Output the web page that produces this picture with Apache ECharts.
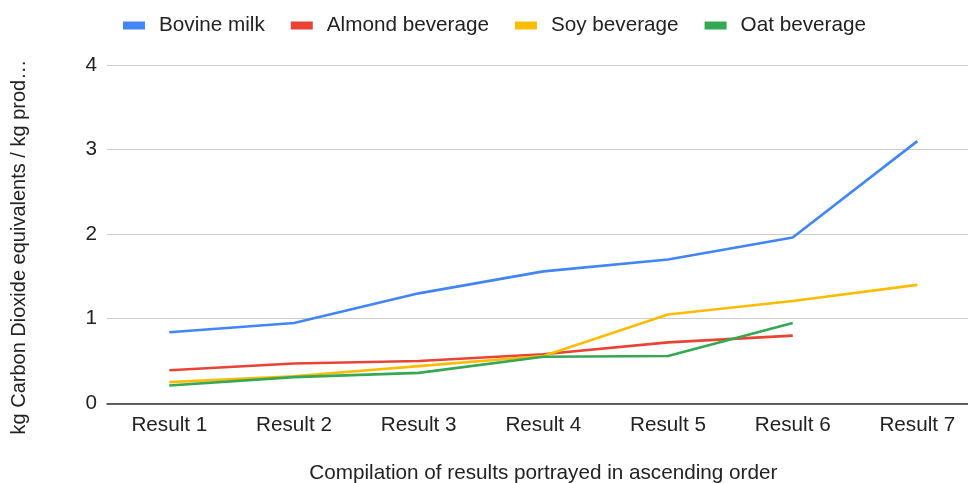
<!DOCTYPE html>
<html>
<head>
<meta charset="utf-8">
<script src="https://cdn.jsdelivr.net/npm/echarts@6/dist/echarts.min.js"></script>
<style>
  html, body { margin: 0; padding: 0; background: #fff; }
  #chart { width: 968px; height: 483px; }
</style>
</head>
<body>
<div id="chart"></div>
<script>
// Categories along the x axis
const categories = ['Result 1', 'Result 2', 'Result 3', 'Result 4', 'Result 5', 'Result 6', 'Result 7'];

// kg CO2e per kg product, per source
const bovineMilk = [0.84, 0.95, 1.30, 1.56, 1.70, 1.96, 3.10];
const almondBeverage = [0.39, 0.47, 0.50, 0.58, 0.72, 0.80, null];
const soyBeverage = [0.25, 0.32, 0.44, 0.56, 1.05, 1.21, 1.40];
const oatBeverage = [0.21, 0.31, 0.36, 0.55, 0.56, 0.95, null];

const yTicks = [0, 1, 2, 3, 4];

const font = 'Liberation Sans, Arial, sans-serif';
const fs = 20.7;

function line(name, data, color) {
  return {
    name: name,
    type: 'line',
    data: data,
    symbol: 'none',
    lineStyle: { width: 2.6, color: color },
    itemStyle: { color: color },
    emphasis: { disabled: true }
  };
}

const chart = echarts.init(document.getElementById('chart'), null, { renderer: 'canvas' });
chart.setOption({
  animation: false,
  textStyle: { fontFamily: font },
  legend: {
    top: 15,
    left: 123,
    padding: 0,
    itemWidth: 22,
    itemHeight: 8,
    itemGap: 26,
    icon: 'rect',
    textStyle: { fontSize: fs, color: '#222', fontFamily: font, padding: [0, 0, 0, 9] },
    data: ['Bovine milk', 'Almond beverage', 'Soy beverage', 'Oat beverage']
  },
  grid: {
    left: 107, top: 65, width: 872.7, height: 338.3,
    containLabel: false,
    outerBoundsMode: 'none'
  },
  xAxis: {
    type: 'category',
    data: categories,
    boundaryGap: true,
    name: 'Compilation of results portrayed in ascending order',
    nameLocation: 'middle',
    nameGap: 59,
    nameTextStyle: { fontSize: fs, color: '#222', fontFamily: font },
    axisLine: { lineStyle: { color: '#333', width: 1.5 } },
    axisTick: { show: false },
    axisLabel: { fontSize: fs, color: '#222', margin: 11, fontFamily: font }
  },
  yAxis: {
    type: 'value',
    min: yTicks[0],
    max: yTicks[yTicks.length - 1],
    interval: 1,
    name: 'kg Carbon Dioxide equivalents / kg prod\u2026',
    nameLocation: 'middle',
    nameGap: 78,
    nameTextStyle: { fontSize: 20, color: '#222', fontFamily: font, padding: [0, 26, 0, 0] },
    axisLine: { show: false },
    axisTick: { show: false },
    axisLabel: { fontSize: fs, color: '#222', margin: 10, fontFamily: font },
    splitLine: { lineStyle: { color: '#cccccc', width: 1 } }
  },
  series: [
    line('Bovine milk', bovineMilk, '#4285F4'),
    line('Almond beverage', almondBeverage, '#EA4335'),
    line('Soy beverage', soyBeverage, '#FBBC04'),
    line('Oat beverage', oatBeverage, '#34A853')
  ]
});
</script>
</body>
</html>
